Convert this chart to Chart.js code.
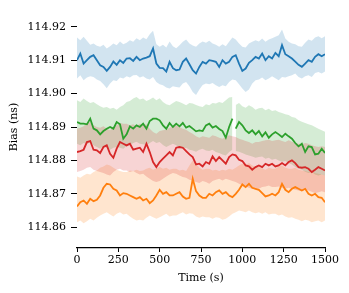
<!DOCTYPE html>
<html><head><meta charset="utf-8">
<script src="https://cdn.jsdelivr.net/npm/chart.js@4.4.1/dist/chart.umd.min.js"></script>
<style>html,body{margin:0;padding:0;background:#fff}#wrap{width:349px;height:293px}</style>
</head><body><div id="wrap"><canvas id="c" width="349" height="293"></canvas></div>
<script>
const times = [0,20,40,60,80,100,120,140,160,180,200,220,240,260,280,300,320,340,360,380,400,420,440,460,480,500,520,540,560,580,600,620,640,660,680,700,720,740,760,780,800,820,840,860,880,900,920,940,960,980,1000,1020,1040,1060,1080,1100,1120,1140,1160,1180,1200,1220,1240,1260,1280,1300,1320,1340,1360,1380,1400,1420,1440,1460,1480,1500];
const xTicks = [0,250,500,750,1000,1250,1500];
const yTicks = [114.86,114.87,114.88,114.89,114.90,114.91,114.92];
const xTitle = 'Time (s)';
const yTitle = 'Bias (ns)';
const greenGapTime = 950;

const blueMean = [114.9100,114.9120,114.9090,114.9100,114.9110,114.9115,114.9100,114.9085,114.9080,114.9068,
114.9080,114.9096,114.9086,114.9100,114.9092,114.9105,114.9106,114.9098,114.9110,114.9100,
114.9105,114.9108,114.9112,114.9135,114.9090,114.9077,114.9076,114.9066,114.9095,114.9076,
114.9070,114.9072,114.9095,114.9105,114.9088,114.9070,114.9060,114.9080,114.9095,114.9090,
114.9100,114.9098,114.9095,114.9080,114.9100,114.9090,114.9095,114.9110,114.9115,114.9090,
114.9068,114.9075,114.9092,114.9100,114.9110,114.9105,114.9120,114.9100,114.9112,114.9105,
114.9122,114.9112,114.9145,114.9118,114.9112,114.9105,114.9096,114.9086,114.9080,114.9090,
114.9100,114.9095,114.9110,114.9118,114.9112,114.9118];
const blueUpper = [114.9168,114.9160,114.9170,114.9158,114.9146,114.9150,114.9143,114.9140,114.9146,114.9135,
114.9142,114.9150,114.9145,114.9156,114.9148,114.9152,114.9160,114.9155,114.9166,114.9160,
114.9168,114.9163,114.9178,114.9188,114.9148,114.9140,114.9146,114.9138,114.9156,114.9142,
114.9136,114.9145,114.9155,114.9162,114.9150,114.9144,114.9140,114.9150,114.9156,114.9152,
114.9158,114.9150,114.9146,114.9140,114.9148,114.9142,114.9155,114.9168,114.9162,114.9150,
114.9140,114.9138,114.9150,114.9155,114.9160,114.9156,114.9165,114.9155,114.9162,114.9166,
114.9170,114.9175,114.9192,114.9165,114.9155,114.9150,114.9148,114.9142,114.9140,114.9152,
114.9162,114.9158,114.9168,114.9172,114.9166,114.9172];
const blueLower = [114.9045,114.9055,114.9040,114.9048,114.9052,114.9050,114.9042,114.9038,114.9028,114.9016,
114.9030,114.9040,114.9038,114.9048,114.9045,114.9052,114.9048,114.9055,114.9056,114.9048,
114.9052,114.9045,114.9042,114.9050,114.9035,114.9028,114.9025,114.9018,114.9015,114.9022,
114.9020,114.9018,114.9030,114.9035,114.9022,114.9005,114.8996,114.9012,114.9026,114.9030,
114.9028,114.9032,114.9025,114.9020,114.9025,114.9022,114.9035,114.9042,114.9040,114.9028,
114.9015,114.9005,114.9012,114.9030,114.9040,114.9042,114.9048,114.9040,114.9045,114.9052,
114.9046,114.9040,114.9050,114.9048,114.9052,114.9055,114.9060,114.9050,114.9045,114.9052,
114.9055,114.9050,114.9062,114.9065,114.9060,114.9066];

const greenMean = [114.8915,114.8910,114.8910,114.8908,114.8925,114.8895,114.8890,114.8878,114.8888,114.8895,
114.8900,114.8895,114.8915,114.8908,114.8865,114.8878,114.8902,114.8895,114.8905,114.8900,
114.8910,114.8895,114.8918,114.8925,114.8925,114.8920,114.8905,114.8895,114.8912,114.8900,
114.8910,114.8902,114.8912,114.8898,114.8903,114.8895,114.8887,114.8890,114.8888,114.8905,
114.8910,114.8898,114.8903,114.8894,114.8888,114.8868,114.8900,114.8925,114.8895,114.8915,
114.8905,114.8890,114.8882,114.8890,114.8878,114.8888,114.8872,114.8884,114.8868,114.8878,
114.8885,114.8878,114.8870,114.8880,114.8872,114.8865,114.8852,114.8842,114.8850,114.8825,
114.8842,114.8840,114.8818,114.8820,114.8835,114.8822];
const greenUpper = [114.8980,114.8975,114.8985,114.8978,114.8972,114.8975,114.8968,114.8962,114.8958,114.8960,
114.8955,114.8958,114.8952,114.8960,114.8965,114.8975,114.8978,114.8985,114.8990,114.8982,
114.8985,114.8978,114.8982,114.8988,114.8980,114.8986,114.8975,114.8968,114.8965,114.8972,
114.8978,114.8975,114.8970,114.8965,114.8972,114.8970,114.8966,114.8962,114.8960,114.8968,
114.8965,114.8972,114.8970,114.8975,114.8972,114.8980,114.8988,114.8990,114.8966,114.8972,
114.8962,114.8958,114.8965,114.8960,114.8952,114.8956,114.8958,114.8950,114.8955,114.8948,
114.8950,114.8945,114.8942,114.8938,114.8936,114.8930,114.8928,114.8920,114.8916,114.8912,
114.8908,114.8905,114.8900,114.8895,114.8890,114.8886];
const greenLower = [114.8850,114.8845,114.8852,114.8848,114.8855,114.8845,114.8840,114.8835,114.8842,114.8838,
114.8832,114.8838,114.8840,114.8838,114.8835,114.8842,114.8845,114.8852,114.8856,114.8850,
114.8848,114.8845,114.8852,114.8858,114.8852,114.8855,114.8846,114.8840,114.8845,114.8850,
114.8845,114.8838,114.8835,114.8838,114.8832,114.8830,114.8826,114.8832,114.8835,114.8830,
114.8828,114.8832,114.8825,114.8822,114.8818,114.8815,114.8825,114.8832,114.8828,114.8826,
114.8822,114.8818,114.8815,114.8812,114.8808,114.8810,114.8812,114.8805,114.8808,114.8802,
114.8805,114.8800,114.8796,114.8798,114.8792,114.8788,114.8780,114.8775,114.8772,114.8766,
114.8762,114.8765,114.8758,114.8755,114.8758,114.8755];

const redMean = [114.8825,114.8828,114.8832,114.8855,114.8858,114.8832,114.8830,114.8822,114.8840,114.8845,
114.8820,114.8808,114.8835,114.8855,114.8850,114.8845,114.8850,114.8832,114.8835,114.8838,
114.8825,114.8850,114.8825,114.8795,114.8780,114.8795,114.8805,114.8815,114.8825,114.8815,
114.8838,114.8840,114.8838,114.8828,114.8818,114.8810,114.8788,114.8790,114.8782,114.8795,
114.8790,114.8812,114.8798,114.8810,114.8800,114.8790,114.8810,114.8818,114.8815,114.8802,
114.8798,114.8785,114.8782,114.8772,114.8780,114.8785,114.8780,114.8790,114.8785,114.8790,
114.8782,114.8785,114.8792,114.8785,114.8795,114.8800,114.8792,114.8780,114.8778,114.8780,
114.8775,114.8765,114.8772,114.8780,114.8775,114.8770];
const redUpper = [114.8895,114.8898,114.8902,114.8912,114.8915,114.8905,114.8900,114.8898,114.8902,114.8895,
114.8890,114.8900,114.8905,114.8912,114.8910,114.8910,114.8905,114.8908,114.8902,114.8910,
114.8905,114.8908,114.8895,114.8885,114.8880,114.8888,114.8890,114.8892,114.8898,114.8902,
114.8905,114.8900,114.8895,114.8892,114.8885,114.8880,114.8872,114.8868,114.8872,114.8870,
114.8868,114.8875,114.8872,114.8868,114.8865,114.8870,114.8875,114.8872,114.8870,114.8865,
114.8862,114.8858,114.8855,114.8850,114.8855,114.8855,114.8858,114.8860,114.8862,114.8858,
114.8860,114.8862,114.8858,114.8855,114.8860,114.8856,114.8852,114.8850,114.8848,114.8852,
114.8850,114.8845,114.8842,114.8840,114.8842,114.8840];
const redLower = [114.8765,114.8768,114.8772,114.8778,114.8780,114.8772,114.8768,114.8765,114.8762,114.8758,
114.8755,114.8765,114.8772,114.8775,114.8770,114.8770,114.8765,114.8768,114.8762,114.8758,
114.8760,114.8752,114.8745,114.8738,114.8735,114.8738,114.8745,114.8752,114.8758,114.8762,
114.8760,114.8755,114.8750,114.8748,114.8742,114.8740,114.8735,114.8732,114.8738,114.8735,
114.8730,114.8738,114.8742,114.8745,114.8740,114.8745,114.8742,114.8738,114.8735,114.8730,
114.8725,114.8722,114.8718,114.8715,114.8718,114.8715,114.8720,114.8722,114.8725,114.8720,
114.8720,114.8722,114.8718,114.8715,114.8718,114.8715,114.8712,114.8710,114.8708,114.8712,
114.8710,114.8706,114.8702,114.8705,114.8708,114.8705];

const orangeMean = [114.8662,114.8675,114.8680,114.8670,114.8685,114.8678,114.8682,114.8695,114.8718,114.8730,
114.8728,114.8715,114.8710,114.8695,114.8702,114.8700,114.8695,114.8690,114.8685,114.8690,
114.8680,114.8685,114.8672,114.8680,114.8695,114.8712,114.8700,114.8705,114.8695,114.8695,
114.8700,114.8705,114.8692,114.8685,114.8688,114.8745,114.8708,114.8695,114.8688,114.8688,
114.8700,114.8695,114.8705,114.8710,114.8700,114.8705,114.8695,114.8690,114.8700,114.8712,
114.8728,114.8720,114.8730,114.8718,114.8715,114.8712,114.8702,114.8692,114.8695,114.8700,
114.8695,114.8705,114.8730,114.8712,114.8705,114.8715,114.8720,114.8715,114.8710,114.8715,
114.8700,114.8695,114.8700,114.8690,114.8688,114.8675];
const orangeUpper = [114.8752,114.8748,114.8755,114.8760,114.8758,114.8765,114.8770,114.8778,114.8782,114.8788,
114.8785,114.8778,114.8772,114.8768,114.8765,114.8765,114.8770,114.8768,114.8772,114.8768,
114.8770,114.8775,114.8778,114.8772,114.8776,114.8780,114.8775,114.8778,114.8772,114.8775,
114.8775,114.8770,114.8772,114.8768,114.8785,114.8800,114.8790,114.8778,114.8772,114.8775,
114.8775,114.8770,114.8772,114.8768,114.8772,114.8770,114.8775,114.8772,114.8778,114.8785,
114.8790,114.8786,114.8792,114.8785,114.8780,114.8780,114.8776,114.8772,114.8778,114.8775,
114.8775,114.8782,114.8785,114.8778,114.8775,114.8775,114.8778,114.8772,114.8770,114.8768,
114.8765,114.8768,114.8762,114.8760,114.8758,114.8755];
const orangeLower = [114.8615,114.8620,114.8612,114.8618,114.8625,114.8620,114.8628,114.8635,114.8640,114.8645,
114.8638,114.8632,114.8640,114.8645,114.8638,114.8640,114.8632,114.8625,114.8620,114.8622,
114.8620,114.8628,114.8635,114.8630,114.8625,114.8630,114.8635,114.8640,114.8632,114.8635,
114.8635,114.8640,114.8645,114.8638,114.8642,114.8640,114.8632,114.8628,114.8632,114.8630,
114.8630,114.8625,114.8630,114.8628,114.8622,114.8625,114.8632,114.8640,114.8645,114.8650,
114.8648,114.8645,114.8650,114.8645,114.8642,114.8645,114.8640,114.8645,114.8638,114.8640,
114.8640,114.8635,114.8638,114.8632,114.8628,114.8630,114.8625,114.8622,114.8618,114.8622,
114.8620,114.8615,114.8618,114.8620,114.8615,114.8620];

function pts(vals, gap) {
  const a = times.map((t, i) => ({x: t, y: vals[i]}));
  if (gap != null) {
    const k = times.findIndex(t => t > gap);
    a.splice(k, 0, {x: gap, y: null});
  }
  return a;
}

const FONT = {family: 'DejaVu Serif', size: 11};
// matplotlib drawing order: blue, orange, green, red (red on top)
const series = [
  {mean: redMean, up: redUpper, lo: redLower, line: '#d62728', band: 'rgba(214,39,40,0.2)', gap: null},
  {mean: greenMean, up: greenUpper, lo: greenLower, line: '#2ca02c', band: 'rgba(44,160,44,0.2)', gap: greenGapTime},
  {mean: orangeMean, up: orangeUpper, lo: orangeLower, line: '#ff7f0e', band: 'rgba(255,127,14,0.2)', gap: null},
  {mean: blueMean, up: blueUpper, lo: blueLower, line: '#1f77b4', band: 'rgba(31,119,180,0.2)', gap: null}
];
const datasets = [];
series.forEach(s => {
  datasets.push({data: pts(s.up, s.gap), fill: '+1', backgroundColor: s.band, borderWidth: 0, pointRadius: 0, spanGaps: false});
  datasets.push({data: pts(s.lo, s.gap), fill: false, borderWidth: 0, pointRadius: 0, spanGaps: false});
});
series.forEach(s => {
  datasets.push({data: pts(s.mean, s.gap), fill: false, borderColor: s.line, borderWidth: 1.8, pointRadius: 0, spanGaps: false, tension: 0});
});

const yTitlePlugin = {
  id: 'yTitle',
  afterDraw(chart) {
    const ctx = chart.ctx;
    ctx.save();
    ctx.translate(14, 127);
    ctx.rotate(-Math.PI / 2);
    ctx.font = '11px "DejaVu Serif"';
    ctx.fillStyle = '#000';
    ctx.textAlign = 'center';
    ctx.textBaseline = 'middle';
    ctx.fillText(yTitle, 0, 0);
    ctx.restore();
  }
};

new Chart(document.getElementById('c'), {
  type: 'line',
  data: {datasets},
  plugins: [yTitlePlugin],
  options: {
    responsive: false, animation: false, devicePixelRatio: 1,
    layout: {padding: {top: 20, right: 24, bottom: 0, left: 0}},
    plugins: {legend: {display: false}, tooltip: {enabled: false}, filler: {drawTime: 'beforeDatasetsDraw'}},
    scales: {
      x: {
        type: 'linear', min: 0, max: 1500,
        afterBuildTicks: s => { s.ticks = xTicks.map(v => ({value: v})); },
        afterFit: s => { s.height = 45; },
        grid: {drawOnChartArea: false, drawTicks: true, tickLength: 4, color: '#000', lineWidth: 1},
        border: {display: true, color: '#000', width: 1.2},
        ticks: {font: FONT, color: '#000', padding: 2, maxRotation: 0, autoSkip: false, callback: v => String(v)},
        title: {display: true, text: xTitle, font: FONT, color: '#000', padding: {top: 2, bottom: 8}}
      },
      y: {
        type: 'linear', min: 114.853773, max: 114.922036,
        afterBuildTicks: s => { s.ticks = yTicks.map(v => ({value: v})); },
        afterFit: s => { s.width = 77; },
        grid: {drawOnChartArea: false, drawTicks: true, tickLength: 6, color: '#000', lineWidth: 1},
        border: {display: false},
        ticks: {font: FONT, color: '#000', padding: 5, callback: v => v.toFixed(2)}
      }
    }
  }
});
</script>
</body></html>
